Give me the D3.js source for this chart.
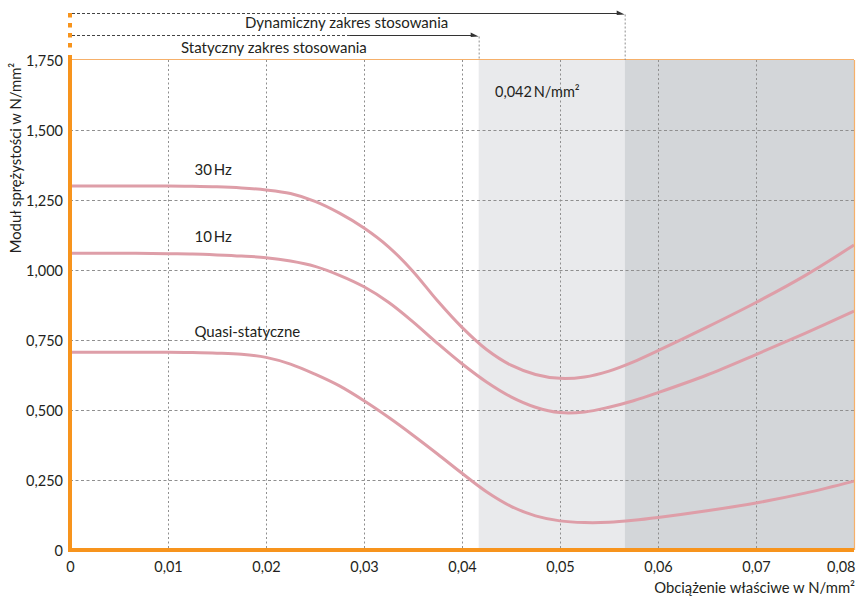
<!DOCTYPE html>
<html>
<head>
<meta charset="utf-8">
<script src="https://cdn.jsdelivr.net/npm/d3@7"></script>
<style>
  html, body { margin: 0; padding: 0; background: #fff; }
  svg { display: block; }
  text { font-family: Lato, "Open Sans", sans-serif; fill: #231f20; }
</style>
</head>
<body>
<svg id="chart" width="856" height="596"></svg>
<script>
// ---- data ----
const xValues    = [0, 0.005, 0.01, 0.0125, 0.015, 0.0175, 0.02, 0.0225, 0.025, 0.0275, 0.03, 0.0325, 0.035, 0.0375, 0.04, 0.0425, 0.045, 0.0475, 0.05, 0.0525, 0.055, 0.0575, 0.06, 0.065, 0.07, 0.075, 0.08];
const series30Hz = [1.300, 1.300, 1.300, 1.299, 1.297, 1.293, 1.286, 1.273, 1.245, 1.203, 1.150, 1.083, 0.995, 0.890, 0.795, 0.716, 0.660, 0.627, 0.613, 0.618, 0.639, 0.672, 0.712, 0.796, 0.884, 0.980, 1.089];
const series10Hz = [1.060, 1.060, 1.058, 1.057, 1.054, 1.050, 1.044, 1.032, 1.013, 0.981, 0.940, 0.885, 0.815, 0.738, 0.665, 0.600, 0.547, 0.510, 0.491, 0.493, 0.510, 0.533, 0.562, 0.625, 0.698, 0.774, 0.853];
const seriesQuasi = [0.706, 0.706, 0.706, 0.705, 0.703, 0.699, 0.688, 0.664, 0.628, 0.586, 0.533, 0.474, 0.410, 0.343, 0.274, 0.208, 0.156, 0.122, 0.104, 0.098, 0.099, 0.106, 0.116, 0.140, 0.168, 0.203, 0.246];
const seriesNames = ["30\u2009Hz", "10\u2009Hz", "Quasi-statyczne"];
const xTicks = [0, 0.01, 0.02, 0.03, 0.04, 0.05, 0.06, 0.07, 0.08];
const xTickLabels = ["0", "0,01", "0,02", "0,03", "0,04", "0,05", "0,06", "0,07", "0,08"];
const yTicks = [0, 0.25, 0.5, 0.75, 1.0, 1.25, 1.5, 1.75];
const yTickLabels = ["0", "0,250", "0,500", "0,750", "1,000", "1,250", "1,500", "1,750"];
const staticLimit = 0.0417;   // static range end (0,042 N/mm²)
const dynamicLimit = 0.0566;  // dynamic range end
const staticLabel = "Statyczny zakres stosowania";
const dynamicLabel = "Dynamiczny zakres stosowania";
const limitLabel = "0,042\u2009N/mm²";
const yTitle = "Moduł sprężystości w N/mm²";
const xTitle = "Obciążenie właściwe w N/mm²";

// ---- layout ----
const svg = d3.select("#chart");
const L = 70, R = 854, T = 60, B = 550;
const x = d3.scaleLinear().domain([0, 0.08]).range([L, R]);
const y = d3.scaleLinear().domain([0, 1.75]).range([B, T]);

const ORANGE = "#f7941d";
const CURVE = "#de9ea8";
const GRID = "#8f8f8f";

// shading regions
svg.append("rect").attr("x", x(staticLimit)).attr("y", T)
  .attr("width", x(dynamicLimit) - x(staticLimit)).attr("height", B - T)
  .attr("fill", "#e9eaec");
svg.append("rect").attr("x", x(dynamicLimit)).attr("y", T)
  .attr("width", x(0.08) - x(dynamicLimit)).attr("height", B - T)
  .attr("fill", "#d3d6d9");

// grid
const grid = svg.append("g");
grid.selectAll("line.v").data(xTicks.filter(d => d > 0 && d < 0.08)).join("line")
  .attr("x1", d => Math.round(x(d)) + 0.5).attr("x2", d => Math.round(x(d)) + 0.5)
  .attr("y1", T).attr("y2", B)
  .attr("stroke", GRID).attr("stroke-width", 1).attr("stroke-dasharray", "2,2.5");
grid.selectAll("line.h").data(yTicks.filter(d => d > 0 && d < 1.75)).join("line")
  .attr("x1", L).attr("x2", R)
  .attr("y1", d => Math.round(y(d)) + 0.5).attr("y2", d => Math.round(y(d)) + 0.5)
  .attr("stroke", GRID).attr("stroke-width", 1).attr("stroke-dasharray", "3,2.5");

// curves
const line = d3.line().x((d, i) => x(xValues[i])).y(d => y(d)).curve(d3.curveCatmullRom.alpha(0.5));
[series30Hz, series10Hz, seriesQuasi].forEach(s => {
  svg.append("path").datum(s).attr("d", line)
    .attr("fill", "none").attr("stroke", CURVE).attr("stroke-width", 3)
    .attr("stroke-linecap", "butt");
});

// curve labels
const labelPos = [[0.0127, 1.338], [0.0127, 1.101], [0.0127, 0.762]];
seriesNames.forEach((n, i) => {
  svg.append("text").attr("x", x(labelPos[i][0])).attr("y", y(labelPos[i][1]))
    .attr("font-size", 15).text(n);
});

// frame: top & right thin orange
svg.append("line").attr("x1", L).attr("x2", R).attr("y1", T - 0.5).attr("y2", T - 0.5)
  .attr("stroke", "#f6b06a").attr("stroke-width", 1.2);
svg.append("line").attr("x1", R + 0.5).attr("x2", R + 0.5).attr("y1", T).attr("y2", B)
  .attr("stroke", "#f6b06a").attr("stroke-width", 1.2);

// axes (orange, thick)
const yAxis = d3.axisLeft(y).tickValues(yTicks).tickSize(0).tickPadding(7)
  .tickFormat((d, i) => yTickLabels[i]);
const gy = svg.append("g").attr("transform", `translate(${L},0)`).call(yAxis);
gy.select(".domain").remove();
gy.selectAll("text").attr("font-size", 14.5).attr("font-family", "Lato, sans-serif").attr("fill", "#231f20").attr("dy", "0.36em");

const xAxis = d3.axisBottom(x).tickValues(xTicks).tickSize(0).tickPadding(12)
  .tickFormat((d, i) => xTickLabels[i]);
const gx = svg.append("g").attr("transform", `translate(0,${B})`).call(xAxis);
gx.select(".domain").remove();
gx.selectAll("text").attr("font-size", 14.5).attr("font-family", "Lato, sans-serif").attr("fill", "#231f20");
gx.selectAll(".tick").filter(d => d === 0.08).select("text").attr("text-anchor", "end").attr("x", 1);

svg.append("line").attr("x1", L).attr("x2", L).attr("y1", 55).attr("y2", B + 2)
  .attr("stroke", ORANGE).attr("stroke-width", 4);
svg.append("line").attr("x1", L).attr("x2", L).attr("y1", 13).attr("y2", 48)
  .attr("stroke", ORANGE).attr("stroke-width", 4).attr("stroke-dasharray", "4.5,5.5");
svg.append("line").attr("x1", L - 2).attr("x2", R).attr("y1", B).attr("y2", B)
  .attr("stroke", ORANGE).attr("stroke-width", 4);

// range arrows
function rangeArrow(yy, endVal, label, labelX, labelY) {
  const xe = x(endVal);
  const split = 350;
  svg.append("line").attr("x1", L + 2).attr("x2", split).attr("y1", yy).attr("y2", yy)
    .attr("stroke", "#444").attr("stroke-width", 1).attr("stroke-dasharray", "3,2");
  svg.append("line").attr("x1", split).attr("x2", xe - 4).attr("y1", yy).attr("y2", yy)
    .attr("stroke", "#333").attr("stroke-width", 1.2);
  svg.append("path")
    .attr("d", `M${xe - 8},${yy - 3}L${xe},${yy + 1}L${xe - 8},${yy + 1.5}Z`)
    .attr("fill", "#333");
  svg.append("line").attr("x1", xe + 0.5).attr("x2", xe + 0.5).attr("y1", yy + 1).attr("y2", T)
    .attr("stroke", GRID).attr("stroke-width", 1).attr("stroke-dasharray", "2,2");
  svg.append("text").attr("x", labelX).attr("y", labelY).attr("font-size", 15).text(label);
}
rangeArrow(13.5, dynamicLimit, dynamicLabel, 245, 28);
rangeArrow(35.5, staticLimit, staticLabel, 181, 53);

// limit label
svg.append("text").attr("x", 495).attr("y", 97).attr("font-size", 14.5).text(limitLabel);

// axis titles
svg.append("text").attr("transform", `translate(21,${158}) rotate(-90)`)
  .attr("text-anchor", "middle").attr("font-size", 14.8).text(yTitle);
svg.append("text").attr("x", 855).attr("y", 593).attr("text-anchor", "end")
  .attr("font-size", 14.8).text(xTitle);
</script>
</body>
</html>
